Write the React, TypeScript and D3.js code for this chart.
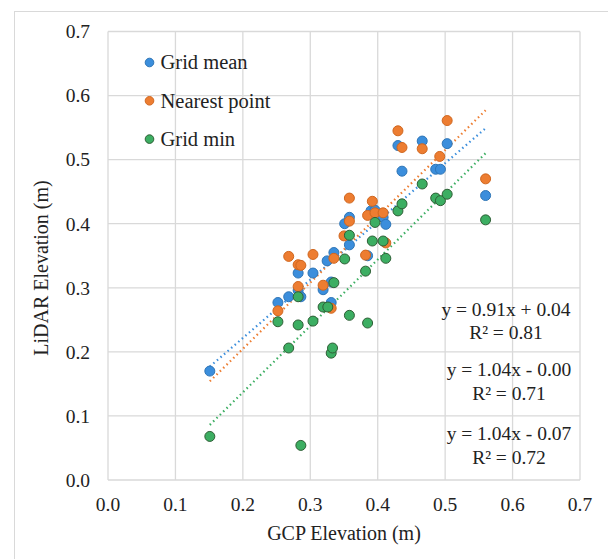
import React, { useEffect, useRef } from "react";
import * as d3 from "d3";

// GCP elevation (x) and LiDAR elevation (y) per series
const meanX = [0.151, 0.252, 0.268, 0.282, 0.282, 0.286, 0.304, 0.319, 0.325, 0.331, 0.331, 0.335, 0.351, 0.358, 0.358, 0.385, 0.39, 0.396, 0.408, 0.412, 0.43, 0.436, 0.466, 0.486, 0.493, 0.503, 0.56];
const meanY = [0.17, 0.277, 0.286, 0.323, 0.296, 0.286, 0.323, 0.297, 0.342, 0.277, 0.309, 0.355, 0.4, 0.41, 0.367, 0.35, 0.42, 0.421, 0.41, 0.399, 0.522, 0.482, 0.529, 0.485, 0.485, 0.525, 0.444];

const nearX = [0.252, 0.268, 0.282, 0.286, 0.282, 0.304, 0.319, 0.331, 0.335, 0.35, 0.358, 0.358, 0.382, 0.385, 0.392, 0.396, 0.408, 0.412, 0.43, 0.436, 0.466, 0.492, 0.503, 0.56];
const nearY = [0.264, 0.349, 0.336, 0.335, 0.302, 0.352, 0.304, 0.268, 0.346, 0.381, 0.44, 0.404, 0.351, 0.413, 0.435, 0.417, 0.417, 0.37, 0.545, 0.519, 0.517, 0.505, 0.561, 0.47];

const minX = [0.151, 0.252, 0.268, 0.282, 0.282, 0.286, 0.304, 0.319, 0.326, 0.331, 0.333, 0.335, 0.351, 0.358, 0.358, 0.382, 0.385, 0.392, 0.396, 0.408, 0.412, 0.43, 0.436, 0.466, 0.486, 0.493, 0.503, 0.56];
const minY = [0.068, 0.247, 0.206, 0.242, 0.286, 0.054, 0.248, 0.27, 0.27, 0.198, 0.206, 0.308, 0.345, 0.382, 0.257, 0.326, 0.245, 0.373, 0.402, 0.373, 0.346, 0.42, 0.431, 0.462, 0.44, 0.436, 0.446, 0.406];

const seriesNames = ["Grid mean", "Nearest point", "Grid min"];
const fills = ["#3B8EDC", "#ED7D31", "#3CAE62"];
const strokes = ["#2E75B6", "#D0661E", "#2F5F36"];

// trendline ends
const trendX = [0.151, 0.56];
const trendY = [
  [0.177, 0.549],
  [0.154, 0.577],
  [0.086, 0.51],
];
const equations = [
  ["y = 0.91x + 0.04", "R² = 0.81"],
  ["y = 1.04x - 0.00", "R² = 0.71"],
  ["y = 1.04x - 0.07", "R² = 0.72"],
];

const ticks = [0, 0.1, 0.2, 0.3, 0.4, 0.5, 0.6, 0.7];

const App = () => {
  const svgRef = useRef<SVGSVGElement>(null);

  useEffect(() => {
    const svg = d3.select(svgRef.current);
    svg.selectAll("*").remove();

    const font = "Liberation Serif, Times New Roman, serif";
    const x = d3.scaleLinear().domain([0, 0.7]).range([108, 580]);
    const y = d3.scaleLinear().domain([0, 0.7]).range([480, 31.5]);

    svg.append("rect")
      .attr("x", 14.5).attr("y", 11.5)
      .attr("width", 800).attr("height", 800)
      .attr("fill", "white").attr("stroke", "#D9D9D9");

    const grid = svg.append("g").attr("stroke", "#D9D9D9").attr("stroke-width", 1.3);
    grid.selectAll("line.v").data(ticks).join("line")
      .attr("x1", (d) => x(d)).attr("x2", (d) => x(d))
      .attr("y1", y(0)).attr("y2", y(0.7));
    grid.selectAll("line.h").data(ticks).join("line")
      .attr("class", "h")
      .attr("y1", (d) => y(d)).attr("y2", (d) => y(d))
      .attr("x1", x(0)).attr("x2", x(0.7));

    const fmt = d3.format(".1f");
    svg.append("g").selectAll("text").data(ticks).join("text")
      .attr("x", 90).attr("y", (d) => y(d)).attr("dy", "0.35em")
      .attr("text-anchor", "end")
      .attr("font-family", font).attr("font-size", 19.5).attr("fill", "#222")
      .text((d) => fmt(d));
    svg.append("g").selectAll("text").data(ticks).join("text")
      .attr("x", (d) => x(d)).attr("y", 511)
      .attr("text-anchor", "middle")
      .attr("font-family", font).attr("font-size", 19.5).attr("fill", "#222")
      .text((d) => fmt(d));

    svg.append("text")
      .attr("x", 344).attr("y", 540)
      .attr("text-anchor", "middle")
      .attr("font-family", font).attr("font-size", 20).attr("fill", "#222")
      .text("GCP Elevation (m)");
    svg.append("text")
      .attr("transform", "translate(48,268) rotate(-90)")
      .attr("text-anchor", "middle")
      .attr("font-family", font).attr("font-size", 20).attr("fill", "#222")
      .text("LiDAR Elevation (m)");

    // dotted trendlines
    trendY.forEach((ty, i) => {
      svg.append("line")
        .attr("x1", x(trendX[0])).attr("y1", y(ty[0]))
        .attr("x2", x(trendX[1])).attr("y2", y(ty[1]))
        .attr("stroke", fills[i]).attr("stroke-width", 2.2)
        .attr("stroke-dasharray", "1.5 3.2")
        .attr("stroke-linecap", "butt");
    });

    const series = [
      [meanX, meanY],
      [nearX, nearY],
      [minX, minY],
    ];
    series.forEach(([xs, ys], i) => {
      svg.append("g").selectAll("circle").data(xs).join("circle")
        .attr("cx", (d) => x(d)).attr("cy", (d, j) => y(ys[j]))
        .attr("r", 5)
        .attr("fill", fills[i]).attr("stroke", strokes[i]).attr("stroke-width", 1);
    });

    // legend
    const leg = svg.append("g");
    seriesNames.forEach((name, i) => {
      const cy = 62.5 + i * 38.3;
      leg.append("circle")
        .attr("cx", 149.5).attr("cy", cy).attr("r", 4.3)
        .attr("fill", fills[i]).attr("stroke", strokes[i]).attr("stroke-width", 1);
      leg.append("text")
        .attr("x", 160.5).attr("y", cy).attr("dy", "0.33em")
        .attr("font-family", font).attr("font-size", 20.5).attr("fill", "#222")
        .text(name);
    });

    // equations
    const eqY = [315.5, 376, 440];
    equations.forEach((lines, i) => {
      const cx = i === 0 ? 506 : 509;
      svg.append("text")
        .attr("x", cx).attr("y", eqY[i])
        .attr("text-anchor", "middle")
        .attr("font-family", font).attr("font-size", 19.5).attr("fill", "#222")
        .text(lines[0]);
      svg.append("text")
        .attr("x", cx).attr("y", eqY[i] + 23.5)
        .attr("text-anchor", "middle")
        .attr("font-family", font).attr("font-size", 19.5).attr("fill", "#222")
        .text(lines[1]);
    });
  }, []);

  return (
    <div style={{ position: "absolute", left: 0, top: 0 }}>
      <svg ref={svgRef} width={608} height={559} style={{ display: "block" }} />
    </div>
  );
};

export default App;
